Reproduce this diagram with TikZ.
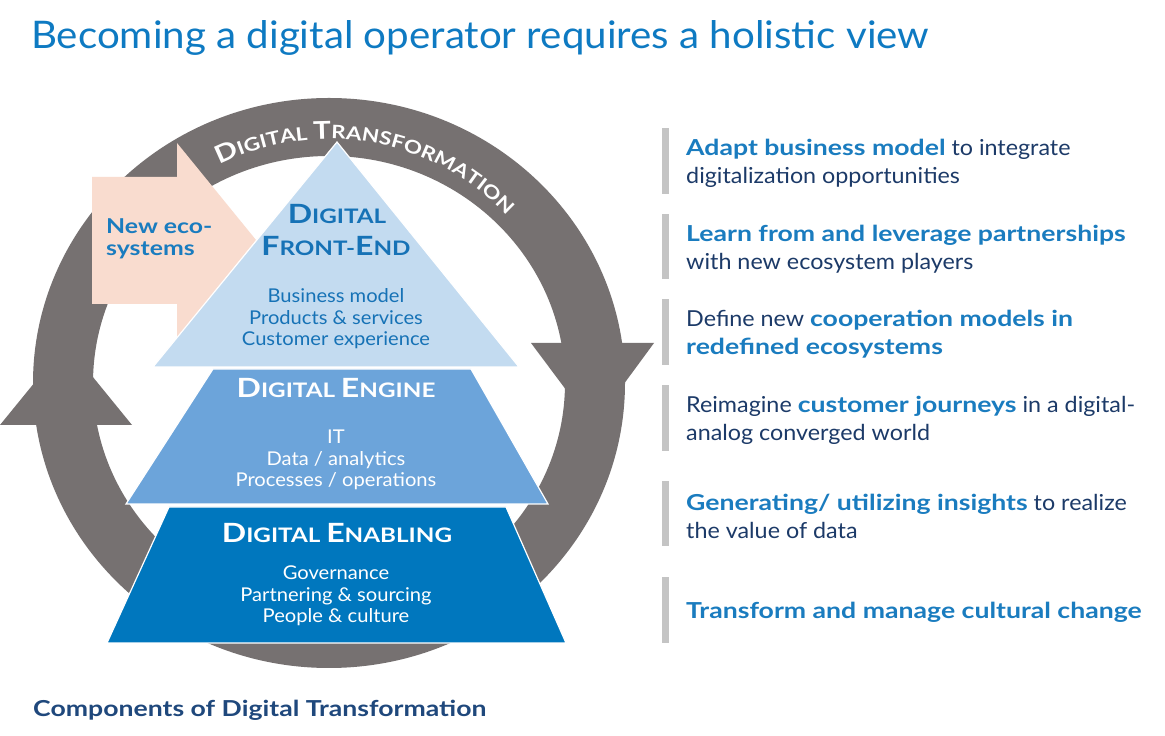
\documentclass[tikz,border=0pt]{standalone}
\usepackage{fontspec}
\setmainfont{Lato}[FakeStretch=1.06,BoldFeatures={FakeStretch=1.21}]
\usetikzlibrary{decorations.text}
\definecolor{ringgrey}{HTML}{767171}
\definecolor{pinkarrow}{HTML}{F9DCCF}
\definecolor{lightblue}{HTML}{C3DBF0}
\definecolor{midblue}{HTML}{6CA4DA}
\definecolor{darkblue}{HTML}{0077BE}
\definecolor{titleblue}{HTML}{0E7AC2}
\definecolor{textblue}{HTML}{1672B6}
\definecolor{boldblue}{HTML}{1A7CBF}
\definecolor{navy}{HTML}{1C3A68}
\definecolor{barcol}{HTML}{C4C4C4}
\definecolor{labelnavy}{HTML}{1F487C}
\newcommand\myhead[4]{{\fontsize{#1}{#1}\selectfont #3}{\fontsize{#2}{#2}\selectfont #4}}
\newcommand\dtbig{\color{white}\bfseries\fontsize{24.5}{24.5}\selectfont}
\newcommand\dtsmall{\color{white}\bfseries\fontsize{18.5}{18.5}\selectfont}
\begin{document}
\begin{tikzpicture}[x=1pt,y=1pt,
  rtext/.style={anchor=west,inner sep=0pt,align=left,text=navy,font=\fontsize{22}{28}\selectfont},
  bodytext/.style={inner sep=0pt,align=center,font=\fontsize{19}{21.5}\selectfont},
  headtext/.style={inner sep=0pt,align=center,font=\bfseries\fontsize{20}{22}\selectfont},
  layer/.style={draw=white,line width=1.2pt},
  bar/.style={fill=barcol}
]
\useasboundingbox (0,0) rectangle (1165,736);
\fill[white] (0,0) rectangle (1165,736);

% title
\node[anchor=west,inner sep=0pt,text=titleblue,font=\fontsize{38}{42}\selectfont] (title) at (31,698) {Becoming a digital operator requires a holistic view};

% ring
\coordinate (c) at (329,353);
\fill[ringgrey,even odd rule] (c) ellipse[x radius=296,y radius=285] (c) ellipse[x radius=236,y radius=227];
\fill[ringgrey] (0,311) -- (132,311) -- (66,392) -- cycle;
\fill[ringgrey] (531,393) -- (654,393) -- (593,310) -- cycle;
\path[decorate,decoration={text along path,text align=center,
  text={|\dtbig|D|\dtsmall|IGITAL |\dtbig|T|\dtsmall|RANSFORMATION}}]
  (c) ++(130:244) arc[start angle=130,end angle=30,radius=244];

% new ecosystems arrow
\fill[pinkarrow] (92,559) -- (177,559) -- (177,593) -- (256,496) -- (177,398) -- (177,432) -- (92,432) -- cycle;
\node[anchor=west,inner sep=0pt,align=left,text=boldblue,font=\bfseries\fontsize{20.5}{22}\selectfont] (eco) at (106,497) {New eco-\\systems};

% pyramid
\filldraw[layer,fill=lightblue] (337,594) -- (519,369) -- (153,369) -- cycle;
\filldraw[layer,fill=midblue] (213,367) -- (471,367) -- (548,232) -- (126,232) -- cycle;
\filldraw[layer,fill=darkblue] (169,229) -- (506,229) -- (566,93) -- (107,93) -- cycle;

\node[headtext,text=textblue] (fe1) at (337,522) {\myhead{26.5}{20}{D}{IGITAL}};
\node[headtext,text=textblue] (fe2) at (336,490) {\myhead{26.5}{20}{F}{RONT-}\myhead{26.5}{20}{E}{ND}};
\node[bodytext,text=textblue] (feb) at (336,417) {Business model\\Products \& services\\Customer experience};

\node[headtext,text=white] (en1) at (336,348) {\myhead{26.5}{20}{D}{IGITAL} \myhead{26.5}{20}{E}{NGINE}};
\node[bodytext,text=white] (enb) at (336,276) {IT\\Data / analytics\\Processes / operations};

\node[headtext,text=white] (eb1) at (337,203) {\myhead{26.5}{20}{D}{IGITAL} \myhead{26.5}{20}{E}{NABLING}};
\node[bodytext,text=white] (ebb) at (336,140) {Governance\\Partnering \& sourcing\\People \& culture};

% right column
\fill[bar] (662,542) rectangle (669,608);
\fill[bar] (662,457) rectangle (669,522);
\fill[bar] (662,371) rectangle (669,437);
\fill[bar] (662,285) rectangle (669,351);
\fill[bar] (662,190) rectangle (669,255);
\fill[bar] (662,93) rectangle (669,159);

\node[rtext] (r1) at (686,573) {{\bfseries\color{boldblue}Adapt business model} to integrate\\digitalization opportunities};
\node[rtext] (r2) at (686,487) {{\bfseries\color{boldblue}Learn from and leverage partnerships}\\with new ecosystem players};
\node[rtext] (r3) at (686,402) {Define new {\bfseries\color{boldblue}cooperation models in}\\{\bfseries\color{boldblue}redefined ecosystems}};
\node[rtext] (r4) at (686,316) {Reimagine {\bfseries\color{boldblue}customer journeys} in a digital-\\analog converged world};
\node[rtext] (r5) at (686,220) {{\bfseries\color{boldblue}Generating/ utilizing insights} to realize\\the value of data};
\node[rtext] (r6) at (686,124) {{\bfseries\color{boldblue}Transform and manage cultural change}};

% caption
\node[anchor=west,inner sep=0pt,text=labelnavy,font=\bfseries\fontsize{22}{26}\selectfont] (cap) at (33,26) {Components of Digital Transformation};
\end{tikzpicture}
\end{document}
